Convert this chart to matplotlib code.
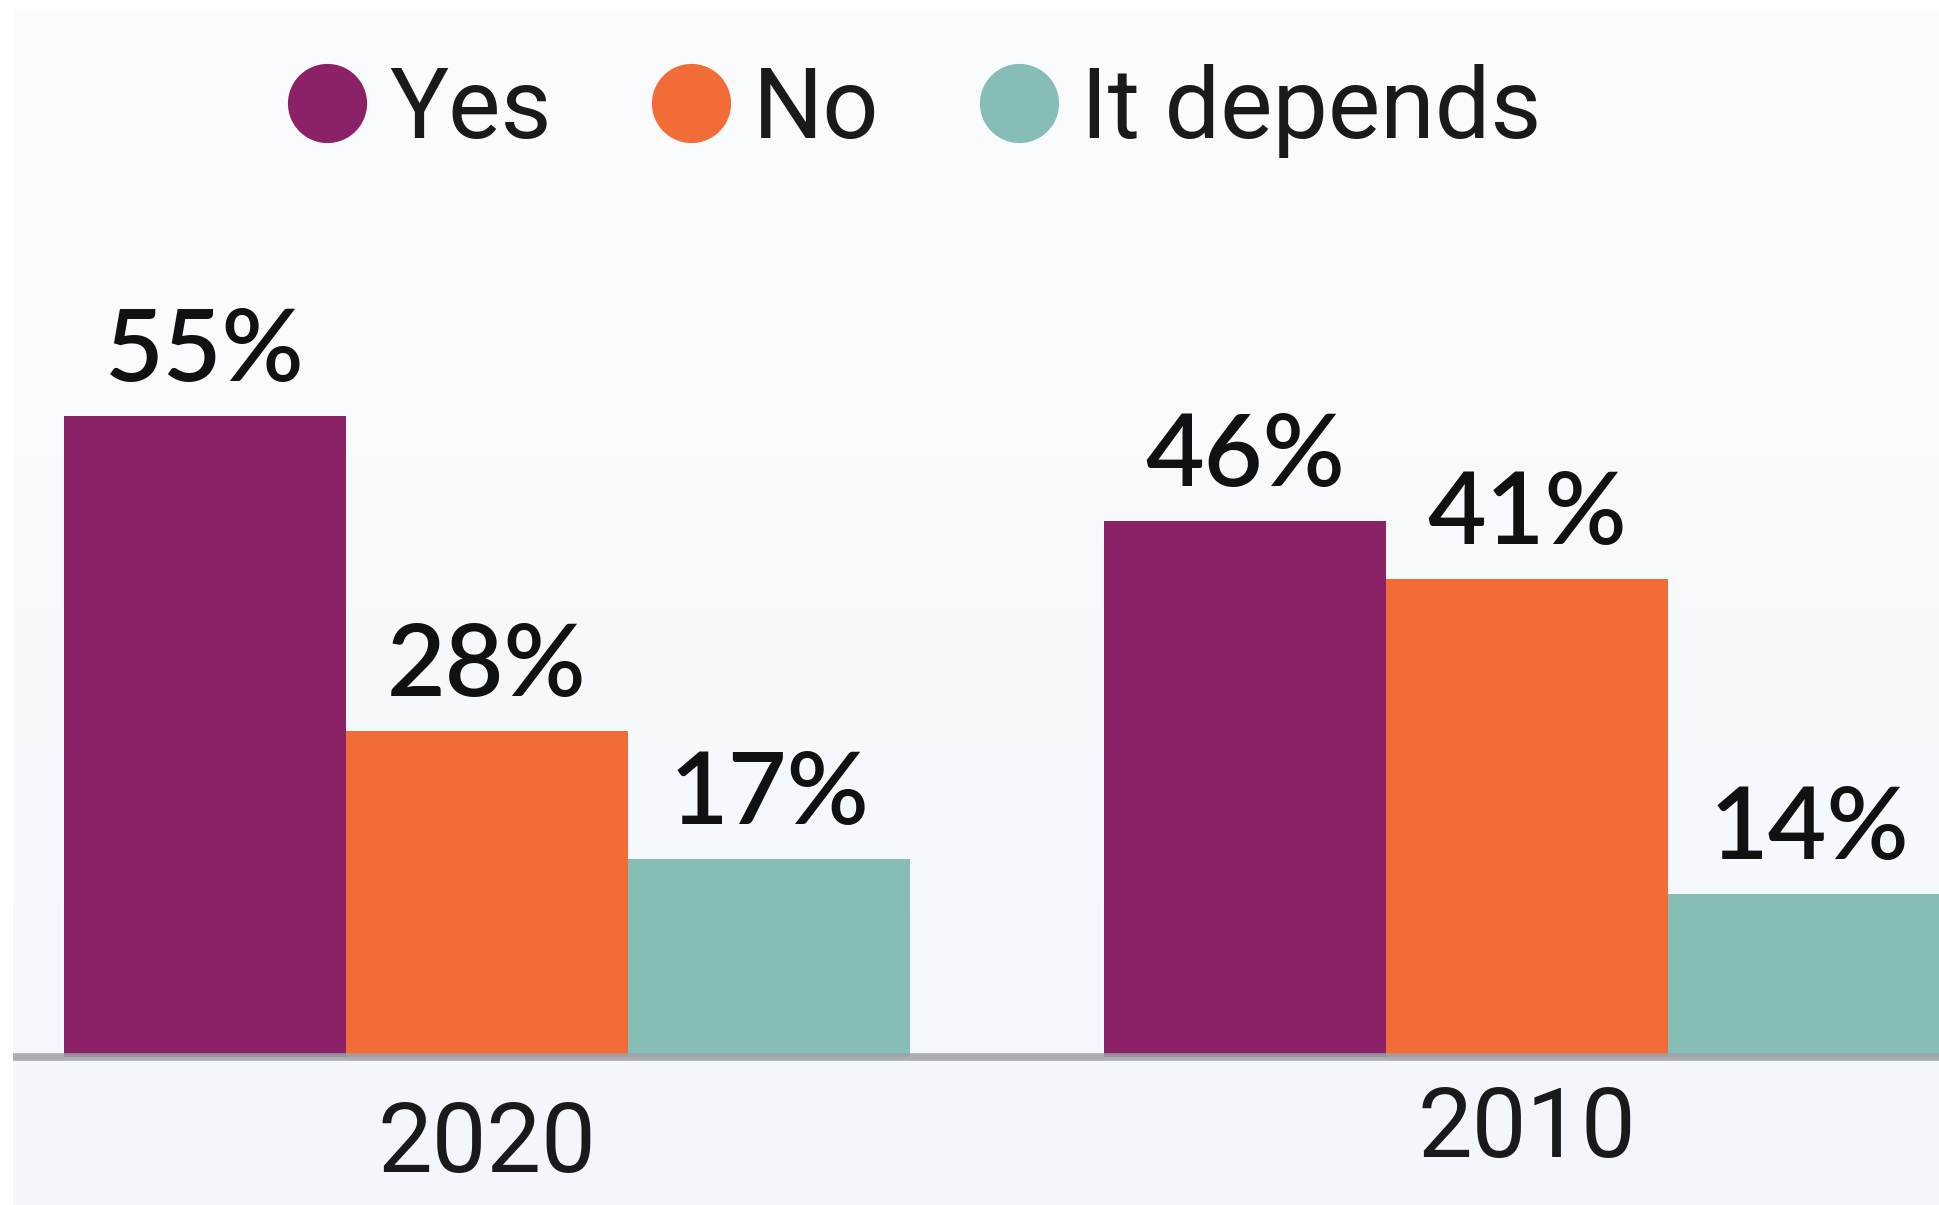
import numpy as np
import matplotlib
matplotlib.use("Agg")
import matplotlib.pyplot as plt
from matplotlib.lines import Line2D
from matplotlib.transforms import blended_transform_factory

# survey answers per year, in percent
years = ["2020", "2010"]
answers = ["Yes", "No", "It depends"]
yes_pct = [55, 46]
no_pct = [28, 41]
depends_pct = [17, 14]

colors = ["#8b2166", "#f26c37", "#87bdb7"]

W, H = 1939, 1205
DPI = 100

fig = plt.figure(figsize=(W / DPI, H / DPI), dpi=DPI)
fig.patch.set_facecolor("white")

# soft vertical gradient panel behind the chart
bg = fig.add_axes([13 / W, 0, 1 - 13 / W, 1 - 9 / H], zorder=-5)
grad = np.linspace(0, 1, 256)[:, None]
top = np.array([251, 252, 254]) / 255
bot = np.array([243, 247, 252]) / 255
img = top[None, None, :] * (1 - grad[..., None]) + bot[None, None, :] * grad[..., None]
bg.imshow(img, aspect="auto", extent=[0, 1, 0, 1])
bg.set_axis_off()

baseline_px = 1057
ax = fig.add_axes([0, (H - baseline_px) / H, 1, baseline_px / H])
ax.patch.set_alpha(0)
ax.set_xlim(-0.468, 1.396)
ax.set_ylim(0, 90.7)
ax.set_axis_off()

x = np.arange(len(years))
width = 0.2712
series = [yes_pct, no_pct, depends_pct]

for i, (vals, col) in enumerate(zip(series, colors)):
    xs = x + (i - 1) * width
    ax.bar(xs, vals, width=width, color=col, edgecolor="none", zorder=2)
    for xi, v in zip(xs, vals):
        ax.annotate(f"{v}%", xy=(xi, v), xytext=(0, 13), textcoords="offset points",
                    ha="center", va="bottom", fontsize=73, fontfamily="Lato",
                    fontweight="semibold", color="#111111", zorder=4)

# baseline rule
ax.plot([13 / W, 1], [0, 0],
        transform=blended_transform_factory(ax.transAxes, ax.transData),
        color="#9ea2a8", lw=5.5, alpha=0.85, solid_capstyle="butt", clip_on=False, zorder=3)

# year labels under each group
year_offsets = [-64, -53]
for xi, yr, off in zip(x, years, year_offsets):
    ax.annotate(yr, xy=(xi, 0), xytext=(0, off), textcoords="offset points",
                ha="center", va="center", fontsize=70, fontfamily="Roboto",
                color="#1a1a1a", annotation_clip=False)

handles = [Line2D([], [], marker="o", linestyle="none", markersize=57,
                  markerfacecolor=c, markeredgecolor="none") for c in colors]
fig.legend(handles, answers, loc="center left",
           bbox_to_anchor=(287 / W, 1 - 111 / H), ncol=3, frameon=False,
           borderpad=0, borderaxespad=0, handlelength=0.82, handletextpad=0.22,
           columnspacing=1.0, prop={"family": "Roboto", "size": 71},
           labelcolor="#1a1a1a")

fig.savefig("out.png", dpi=DPI)
